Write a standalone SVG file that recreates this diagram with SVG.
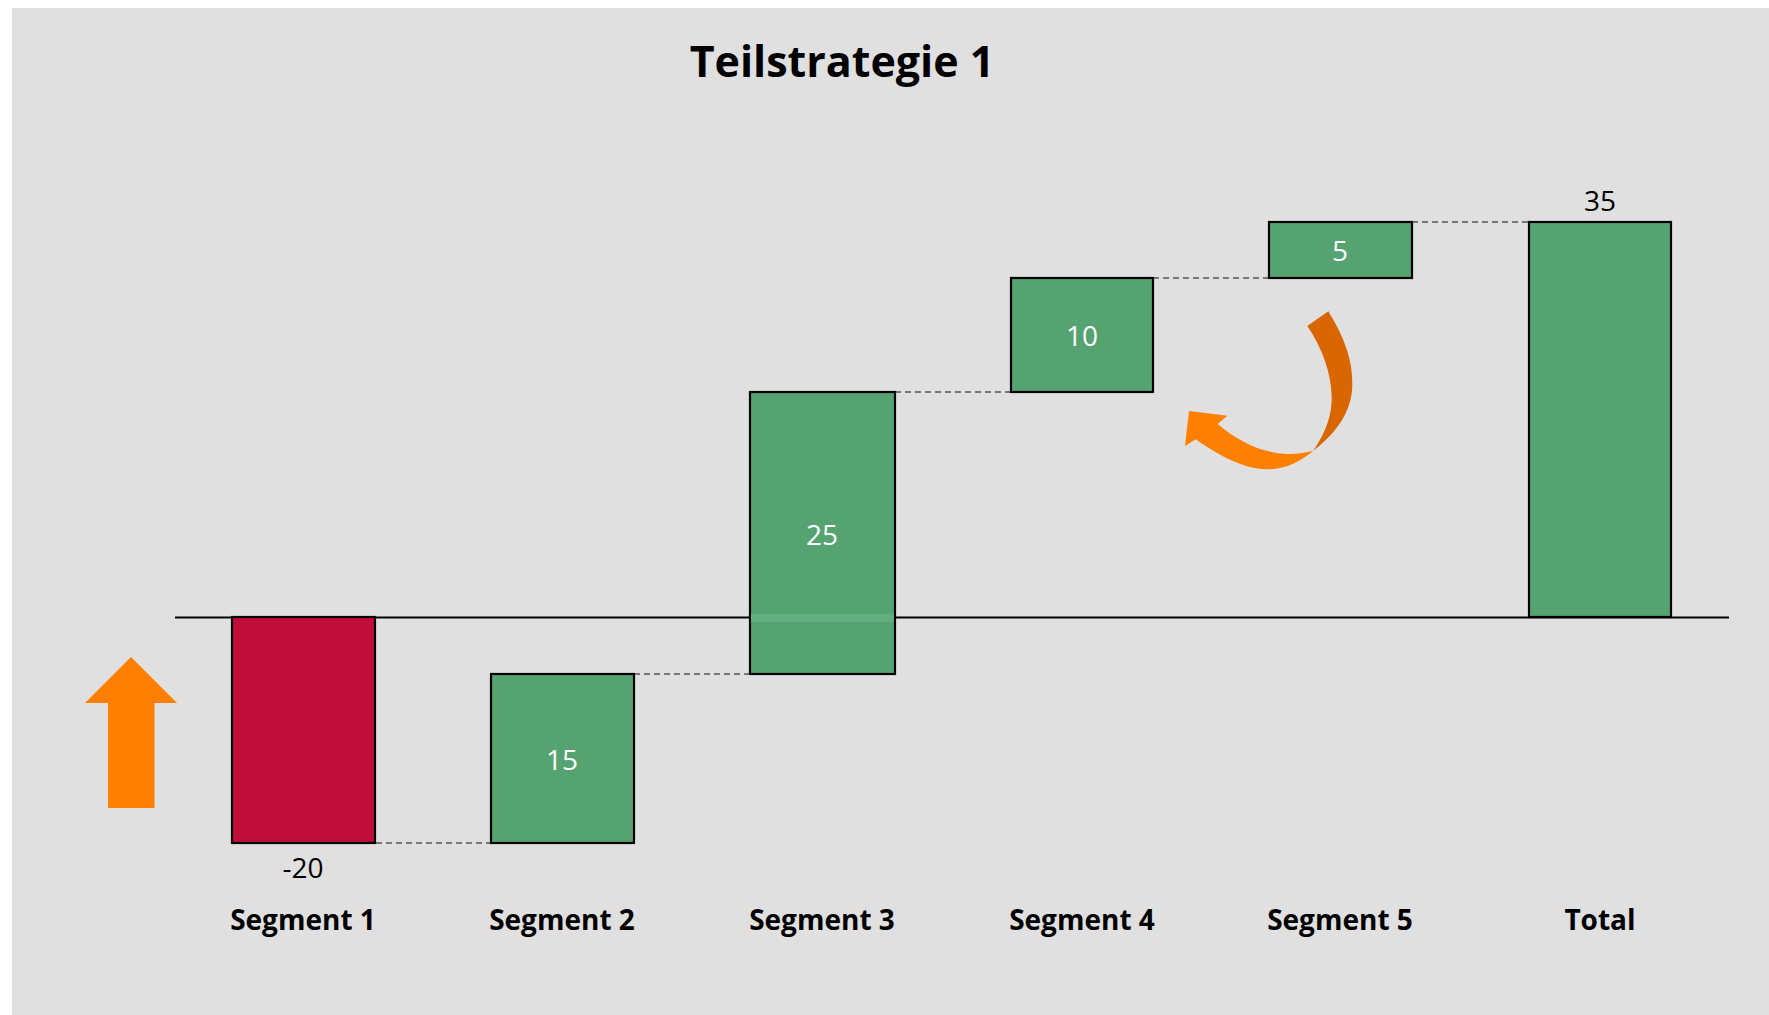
<svg xmlns="http://www.w3.org/2000/svg" width="1769" height="1015" viewBox="0 0 1769 1015">
<style>
.bar{stroke:#000;stroke-width:2.2}
.pos{fill:#54A371}
.neg{fill:#C00D3A}
.val{font-family:"Open Sans","Liberation Sans",sans-serif;font-size:28px;fill:#fff;text-anchor:middle}
.out{font-family:"Open Sans","Liberation Sans",sans-serif;font-size:28px;fill:#000;text-anchor:middle}
.cat{font-family:"Open Sans","Liberation Sans",sans-serif;font-size:28px;font-weight:bold;fill:#000;text-anchor:middle}
.dash{stroke:#555;stroke-width:1.6;stroke-dasharray:6 4;fill:none}
</style>
<rect x="12" y="8" width="1757" height="1007" fill="#E0E0E0"/>
<text x="842" y="77" font-family="'Open Sans','Liberation Sans',sans-serif" font-size="43" font-weight="bold" text-anchor="middle">Teilstrategie 1</text>
<g id="connectors">
<line class="dash" x1="376" y1="843" x2="491" y2="843"/>
<line class="dash" x1="634" y1="674" x2="750" y2="674"/>
<line class="dash" x1="895" y1="392" x2="1011" y2="392"/>
<line class="dash" x1="1153" y1="278" x2="1269" y2="278"/>
<line class="dash" x1="1412" y1="222" x2="1529" y2="222"/>
</g>
<line id="axis" x1="175" y1="617.5" x2="1729" y2="617.5" stroke="#000" stroke-width="2"/>
<g id="seg1">
<rect class="bar neg" x="232" y="617" width="143" height="226"/>
<text class="out" x="303" y="878">-20</text>
<text class="cat" x="303" y="930">Segment 1</text>
</g>
<g id="seg2">
<rect class="bar pos" x="491" y="674" width="143" height="169"/>
<text class="val" x="562" y="770">15</text>
<text class="cat" x="562" y="930">Segment 2</text>
</g>
<g id="seg3">
<rect class="bar pos" x="750" y="392" width="145" height="282"/>
<rect x="751" y="614" width="143" height="8" fill="#62AE82"/>
<text class="val" x="822" y="545">25</text>
<text class="cat" x="822" y="930">Segment 3</text>
</g>
<g id="seg4">
<rect class="bar pos" x="1011" y="278" width="142" height="114"/>
<text class="val" x="1082" y="346">10</text>
<text class="cat" x="1082" y="930">Segment 4</text>
</g>
<g id="seg5">
<rect class="bar pos" x="1269" y="222" width="143" height="56"/>
<text class="val" x="1340" y="261">5</text>
<text class="cat" x="1340" y="930">Segment 5</text>
</g>
<g id="total">
<rect class="bar pos" x="1529" y="222" width="142" height="395"/>
<text class="out" x="1600" y="211">35</text>
<text class="cat" x="1600" y="930">Total</text>
</g>
<g id="up-arrow">
<polygon points="131,657 177,703 154.5,703 154.5,808 108,808 108,703 85,703" fill="#FF7F00"/>
</g>
<g id="curved-arrow">
<path d="M1328.3,311.3 C1345,338 1353,362 1352.3,385 C1352,410 1338,432 1313.3,450.7 C1326,432 1332,415 1331.7,396.7 C1331,372 1322,348 1307.3,326 Z" fill="#D96600"/>
<path d="M1313.3,450.7 C1300,462 1285,469.5 1266.7,469.3 C1243,469 1218,455 1195.7,439.3 L1185,446 L1189,411 L1227.3,415.7 L1217.7,424 C1240,443 1262,452 1283.3,453.7 C1295,454.5 1305,453 1313.3,450.7 Z" fill="#FF7F00"/>
</g>
</svg>
